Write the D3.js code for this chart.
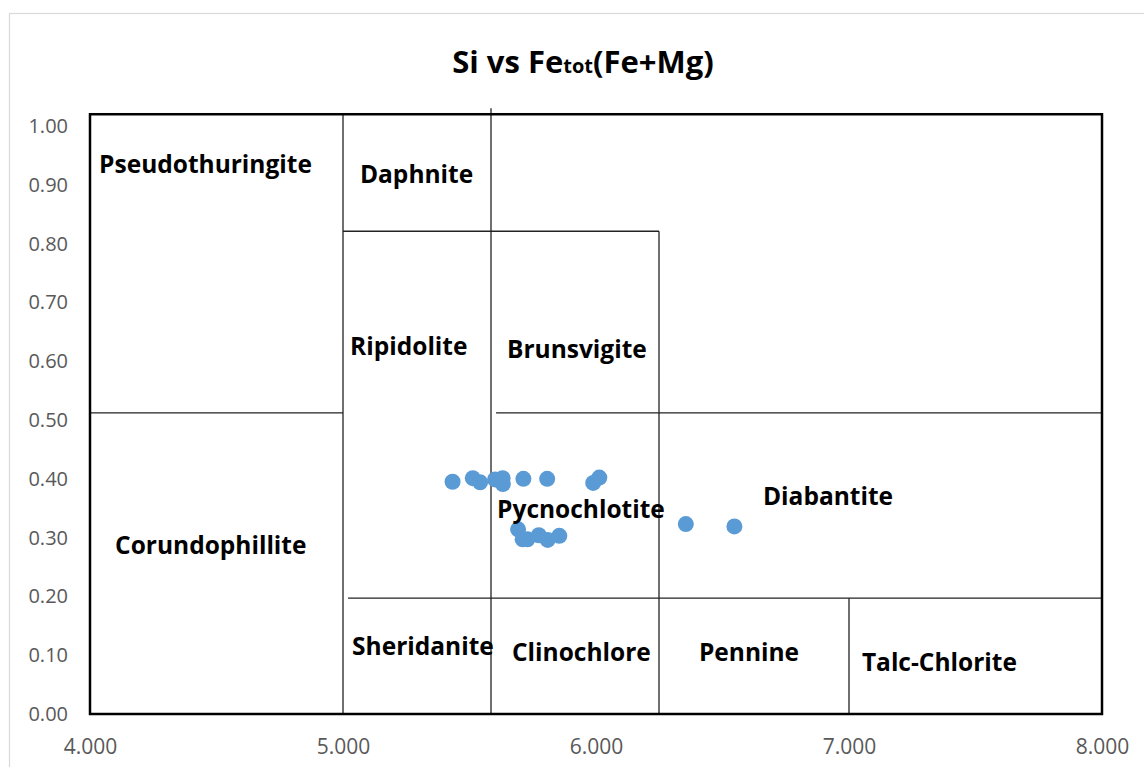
<!DOCTYPE html>
<html>
<head>
<meta charset="utf-8">
<script src="https://cdn.jsdelivr.net/npm/d3@7"></script>
<style>
  body { margin: 0; background: #fff; }
  svg text { font-family: "Open Sans", sans-serif; }
</style>
</head>
<body>
<div id="chart"></div>
<script>
// measured points (Si apfu, Fe/(Fe+Mg))
const siValues = [5.433, 5.513, 5.542, 5.601, 5.631, 5.632, 5.713, 5.807, 5.989, 6.013,
                  5.692, 5.710, 5.729, 5.774, 5.809, 5.855, 6.355, 6.547];
const feValues = [0.395, 0.401, 0.394, 0.399, 0.401, 0.391, 0.400, 0.400, 0.393, 0.402,
                  0.314, 0.297, 0.297, 0.304, 0.296, 0.303, 0.323, 0.319];

const xTicks = [4, 5, 6, 7, 8];
const yTicks = [0, 0.1, 0.2, 0.3, 0.4, 0.5, 0.6, 0.7, 0.8, 0.9, 1.0];

// classification field names and where they are written
const fieldNames = ["Pseudothuringite", "Daphnite", "Ripidolite", "Brunsvigite", "Corundophillite",
                    "Pycnochlotite", "Diabantite", "Sheridanite", "Clinochlore", "Pennine", "Talc-Chlorite"];
const fieldX = [4.036, 5.067, 5.028, 5.648, 4.099, 5.609, 6.660, 5.036, 5.668, 6.407, 7.051];
const fieldY = [0.937, 0.920, 0.626, 0.621, 0.289, 0.349, 0.371, 0.116, 0.107, 0.107, 0.090];

// field boundaries [x1, y1, x2, y2]
const boundaries = [
    [5.0, 0, 5.0, 1.02],
    [5.585, 0, 5.585, 1.03],
    [4.0, 0.512, 5.0, 0.512],
    [5.0, 0.821, 6.249, 0.821],
    [6.249, 0, 6.249, 0.821],
    [5.605, 0.512, 8.0, 0.512],
    [5.02, 0.197, 8.0, 0.197],
    [7.0, 0, 7.0, 0.197]
];
const frameTop = 1.02;

const width = 1144, height = 767;

const svg = d3.select("#chart").append("svg")
    .attr("width", width)
    .attr("height", height);

// chart area border
svg.append("rect")
    .attr("x", 9.5).attr("y", 13.5)
    .attr("width", 1140).attr("height", 770)
    .attr("fill", "none")
    .attr("stroke", "#d9d9d9")
    .attr("stroke-width", 1.2);

const x = d3.scaleLinear().domain([4, 8]).range([90, 1102]);
const y = d3.scaleLinear().domain([0, 1]).range([714, 126]);

// title
const title = svg.append("text")
    .attr("x", 583).attr("y", 73)
    .attr("text-anchor", "middle")
    .attr("font-weight", "bold")
    .attr("font-size", 31)
    .attr("fill", "#000");
title.append("tspan").text("Si vs Fe");
title.append("tspan").attr("font-size", 20).text("tot");
title.append("tspan").text("(Fe+Mg)");

// axes (labels only)
const yAxis = svg.append("g")
    .attr("transform", "translate(78,0)")
    .call(d3.axisLeft(y).tickValues(yTicks).tickSize(0).tickPadding(0).tickFormat(d3.format(".2f")));
yAxis.select(".domain").remove();
yAxis.selectAll("text")
    .attr("font-size", 20)
    .attr("fill", "#595959")
    .attr("x", -10);

const xAxis = svg.append("g")
    .attr("transform", "translate(0,732)")
    .call(d3.axisBottom(x).tickValues(xTicks).tickSize(0).tickPadding(0).tickFormat(d3.format(".3f")));
xAxis.select(".domain").remove();
xAxis.selectAll("text")
    .attr("font-size", 21)
    .attr("fill", "#595959")
    .attr("y", 22)
    .attr("dy", null);

// field boundaries
svg.append("g").selectAll("line")
    .data(boundaries)
    .join("line")
    .attr("x1", d => x(d[0])).attr("y1", d => y(d[1]))
    .attr("x2", d => x(d[2])).attr("y2", d => y(d[3]))
    .attr("stroke", "#222")
    .attr("stroke-width", 1.3);

// outer frame
svg.append("rect")
    .attr("x", x(4)).attr("y", y(frameTop))
    .attr("width", x(8) - x(4))
    .attr("height", y(0) - y(frameTop))
    .attr("fill", "none")
    .attr("stroke", "#000")
    .attr("stroke-width", 2.5);

// points
const points = siValues.map((v, i) => ({si: v, fe: feValues[i]}));
svg.append("g").selectAll("circle")
    .data(points)
    .join("circle")
    .attr("cx", d => x(d.si))
    .attr("cy", d => y(d.fe))
    .attr("r", 8)
    .attr("fill", "#5b9bd5");

// field labels
svg.append("g").selectAll("text")
    .data(fieldNames)
    .join("text")
    .attr("x", (d, i) => x(fieldX[i]))
    .attr("y", (d, i) => y(fieldY[i]))
    .attr("dominant-baseline", "central")
    .attr("font-weight", "bold")
    .attr("font-size", 24.5)
    .attr("fill", "#000")
    .text(d => d);
</script>
</body>
</html>
